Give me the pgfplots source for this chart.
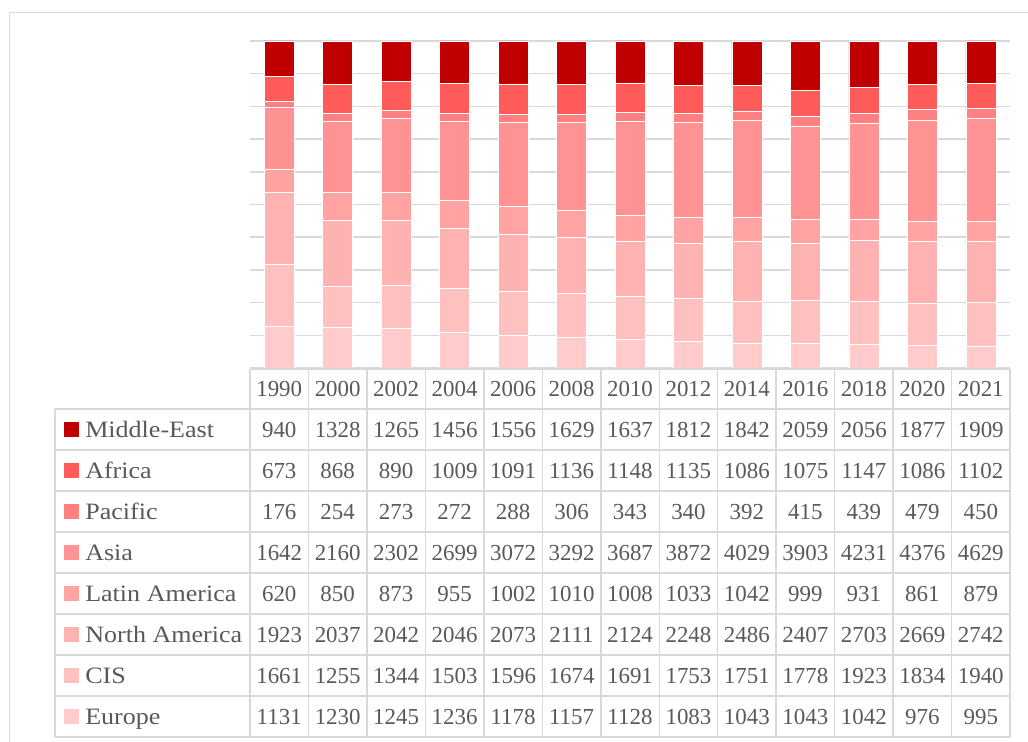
\documentclass[border=0pt]{standalone}
\usepackage{fontspec}
\setmainfont{Liberation Serif}
\usepackage{graphicx}
\usepackage{pgfplots}
\usepackage{pgfplotstable}
\pgfplotsset{compat=1.18}
\definecolor{cME}{RGB}{192,0,0}
\definecolor{cAf}{RGB}{255,91,91}
\definecolor{cPa}{RGB}{255,128,128}
\definecolor{cAs}{RGB}{255,147,147}
\definecolor{cLA}{RGB}{255,163,163}
\definecolor{cNA}{RGB}{255,178,178}
\definecolor{cCIS}{RGB}{255,192,192}
\definecolor{cEu}{RGB}{255,203,203}
\definecolor{gridgray}{RGB}{217,217,217}
\definecolor{txt}{RGB}{89,89,89}

\pgfplotstableread{
year ME   Af   Pa  As   LA   NA   CIS  Eu
1990 940  673  176 1642 620  1923 1661 1131
2000 1328 868  254 2160 850  2037 1255 1230
2002 1265 890  273 2302 873  2042 1344 1245
2004 1456 1009 272 2699 955  2046 1503 1236
2006 1556 1091 288 3072 1002 2073 1596 1178
2008 1629 1136 306 3292 1010 2111 1674 1157
2010 1637 1148 343 3687 1008 2124 1691 1128
2012 1812 1135 340 3872 1033 2248 1753 1083
2014 1842 1086 392 4029 1042 2486 1751 1043
2016 2059 1075 415 3903 999  2407 1778 1043
2018 2056 1147 439 4231 931  2703 1923 1042
2020 1877 1086 479 4376 861  2669 1834 976
2021 1909 1102 450 4629 879  2742 1940 995
}\data
\pgfplotstablecreatecol[expr={\thisrow{ME}+\thisrow{Af}+\thisrow{Pa}+\thisrow{As}+\thisrow{LA}+\thisrow{NA}+\thisrow{CIS}+\thisrow{Eu}}]{total}\data

\begin{document}
\begin{tikzpicture}
\useasboundingbox (0,0) rectangle (771pt,-556.5pt);
\begin{axis}[
  at={(187.5pt,-276pt)}, anchor=south west,
  scale only axis, width=570pt, height=245.25pt,
  xmin=-0.5, xmax=12.5, ymin=0, ymax=100,
  ybar stacked, bar width=22.5pt,
  ytick={0,10,...,100}, yticklabels={}, xtick=\empty,
  ymajorgrids, grid style={color=gridgray, line width=1.1pt},
  axis line style={draw=none}, major tick length=0pt,
  every axis plot/.append style={draw=white, line width=0.4pt},
]
\addplot[fill=cEu]  table[x expr=\coordindex, y expr=100*\thisrow{Eu}/\thisrow{total}]{\data};
\addplot[fill=cCIS] table[x expr=\coordindex, y expr=100*\thisrow{CIS}/\thisrow{total}]{\data};
\addplot[fill=cNA]  table[x expr=\coordindex, y expr=100*\thisrow{NA}/\thisrow{total}]{\data};
\addplot[fill=cLA]  table[x expr=\coordindex, y expr=100*\thisrow{LA}/\thisrow{total}]{\data};
\addplot[fill=cAs]  table[x expr=\coordindex, y expr=100*\thisrow{As}/\thisrow{total}]{\data};
\addplot[fill=cPa]  table[x expr=\coordindex, y expr=100*\thisrow{Pa}/\thisrow{total}]{\data};
\addplot[fill=cAf]  table[x expr=\coordindex, y expr=100*\thisrow{Af}/\thisrow{total}]{\data};
\addplot[fill=cME]  table[x expr=\coordindex, y expr=100*\thisrow{ME}/\thisrow{total}]{\data};
\end{axis}
\begin{scope}[x=0.75pt,y=-0.75pt]
  % outer border
  \draw[gridgray, line width=1.1pt] (9.5,800) -- (9.5,12.5) -- (1100,12.5);
  % table grid
  \draw[gridgray, line width=1.1pt] (250,369) -- (1010,369);
  \foreach \k in {0,...,8} {
    \draw[gridgray, line width=1.1pt] (55,409+41*\k) -- (1010,409+41*\k);
  }
  \draw[gridgray, line width=1.1pt] (55,409) -- (55,737);
  \foreach \j in {0,...,13} {
    \draw[gridgray, line width=1.1pt] (250+58.4615*\j,369) -- (250+58.4615*\j,737);
  }
  % header
  \foreach \c in {0,...,12} {
    \pgfplotstablegetelem{\c}{year}\of\data
    \node[anchor=base, inner sep=0pt, text=txt, font=\fontsize{17.2}{20}\selectfont]
      at (250+58.4615*\c+29.23, 396.5) {\pgfplotsretval};
  }
  % rows
  \foreach \name/\col/\clr [count=\r from 0] in {Middle-East/ME/cME, Africa/Af/cAf, Pacific/Pa/cPa, Asia/As/cAs, Latin America/LA/cLA, North America/NA/cNA, CIS/CIS/cCIS, Europe/Eu/cEu} {
    \fill[\clr] (64,409+41*\r+13) rectangle (79,409+41*\r+28);
    \node[anchor=base west, inner sep=0pt, text=txt, font=\fontsize{17.6}{20}\selectfont]
      at (85,409+41*\r+28.3) {\scalebox{1.11}[1]{\name}};
    \foreach \c in {0,...,12} {
      \pgfplotstablegetelem{\c}{\col}\of\data
      \node[anchor=base, inner sep=0pt, text=txt, font=\fontsize{17.2}{20}\selectfont]
        at (250+58.4615*\c+29.23, 409+41*\r+28.3) {\pgfplotsretval};
    }
  }
\end{scope}
\end{tikzpicture}
\end{document}
